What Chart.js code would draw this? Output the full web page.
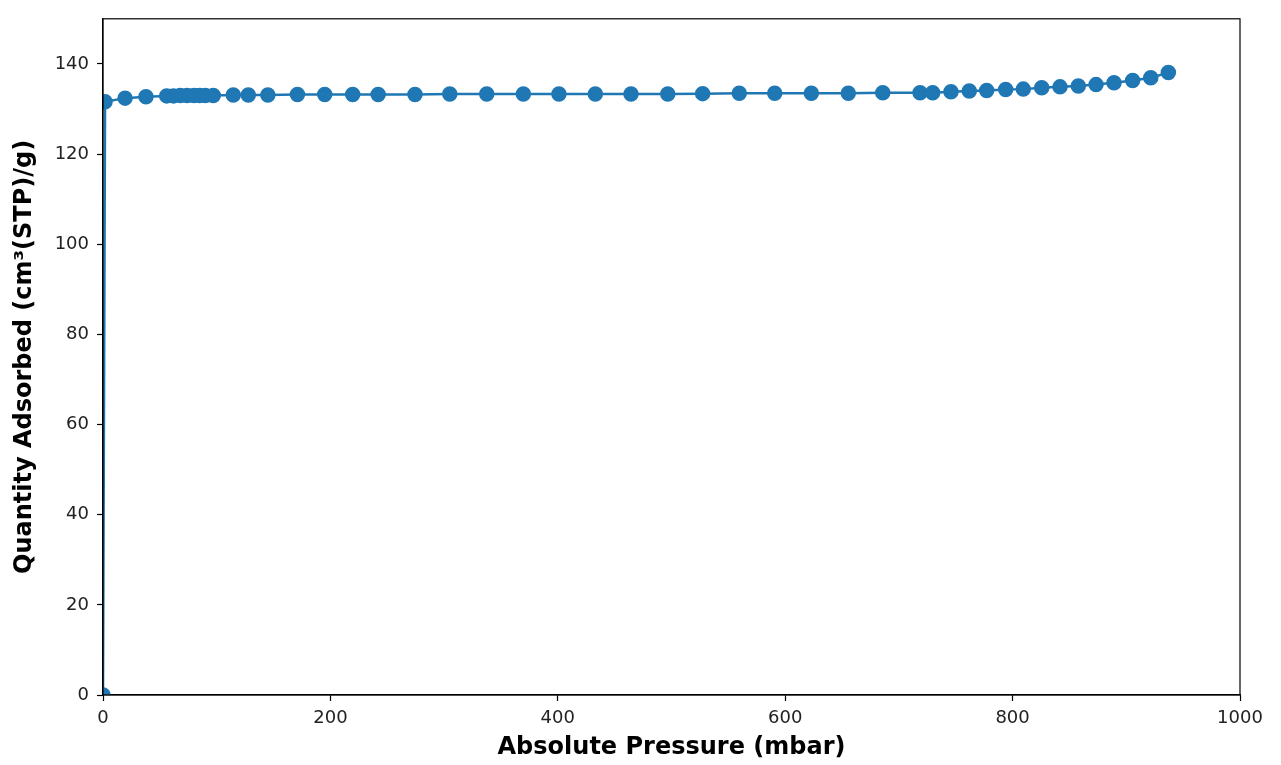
<!DOCTYPE html>
<html>
<head>
<meta charset="utf-8">
<script src="https://cdn.jsdelivr.net/npm/chart.js@4.4.0/dist/chart.umd.min.js"></script>
<style>
  html, body { margin: 0; padding: 0; background: #fff; }
  #wrap { width: 1281px; height: 765px; }
</style>
</head>
<body>
<div id="wrap"><canvas id="myChart" width="1281" height="765"></canvas></div>
<script>
// isotherm readings (pressure in mbar, quantity in cm3(STP)/g)
const pressure = [0, 1.8, 19.4, 37.8, 56, 62, 68, 74, 80, 85, 90, 97, 114.6, 127.8, 145, 171, 195, 219.6,
  242, 274.4, 305, 337.5, 369.7, 401, 433, 464.4, 496.7, 527.4, 559.6, 590.8, 623, 655.5, 685.8,
  718.6, 729.7, 745.8, 761.9, 777.2, 793.9, 809.4, 825.6, 841.7, 857.8, 873.4, 889.2, 905.6, 921.5, 937];
const quantity = [0, 131.6, 132.4, 132.7, 132.9, 132.9, 133.0, 133.0, 133.0, 133.0, 133.0, 133.0, 133.1, 133.1,
  133.1, 133.2, 133.2, 133.2, 133.2, 133.2, 133.3, 133.3, 133.3, 133.3, 133.3, 133.3, 133.3, 133.4, 133.5,
  133.5, 133.5, 133.5, 133.6, 133.6, 133.6, 133.8, 134.0, 134.1, 134.3, 134.4, 134.7, 134.9, 135.1,
  135.4, 135.8, 136.3, 136.9, 138.1];
const xTicks = [0, 200, 400, 600, 800, 1000];
const yTicks = [0, 20, 40, 60, 80, 100, 120, 140];

const points = pressure.map((p, i) => ({ x: p, y: quantity[i] }));

// matplotlib style box around the plot
const frame = {
  id: 'frame',
  afterDraw(chart) {
    const a = chart.chartArea;
    const c = chart.ctx;
    c.save();
    c.strokeStyle = '#000';
    c.lineWidth = 1.2;
    c.strokeRect(a.left, a.top, a.right - a.left, a.bottom - a.top);
    c.restore();
  }
};

const tickFont = { family: 'DejaVu Sans', size: 18 };
const titleFont = { family: 'DejaVu Sans', size: 24, weight: 'bold' };

new Chart(document.getElementById('myChart').getContext('2d'), {
  type: 'scatter',
  data: {
    datasets: [{
      data: points,
      showLine: true,
      borderColor: '#1f77b4',
      backgroundColor: '#1f77b4',
      borderWidth: 2.5,
      pointRadius: 6.5,
      pointHoverRadius: 6.5
    }]
  },
  options: {
    responsive: false,
    animation: false,
    layout: { padding: { left: 6, right: 41, top: 17, bottom: 0 } },
    plugins: { legend: { display: false }, tooltip: { enabled: false } },
    scales: {
      x: {
        type: 'linear',
        min: 0,
        max: 1000,
        afterBuildTicks: s => { s.ticks = xTicks.map(v => ({ value: v })); },
        afterFit: s => { s.height = 70; },
        grid: { drawOnChartArea: false, tickLength: 6, color: '#000', tickWidth: 1.2 },
        border: { color: '#000', width: 1.2 },
        ticks: { color: '#222', font: tickFont, padding: 7, maxRotation: 0, callback: v => String(v) },
        title: { display: true, text: 'Absolute Pressure (mbar)', color: '#000', font: titleFont, padding: { top: 2, bottom: 3 } }
      },
      y: {
        min: 0,
        max: 150,
        afterBuildTicks: s => { s.ticks = yTicks.map(v => ({ value: v })); },
        afterFit: s => { s.width = 97; },
        grid: { drawOnChartArea: false, tickLength: 6, color: '#000', tickWidth: 1.2 },
        border: { color: '#000', width: 1.2 },
        ticks: { color: '#222', font: tickFont, padding: 8, callback: v => String(v) },
        title: { display: true, text: 'Quantity Adsorbed (cm³(STP)/g)', color: '#000', font: titleFont, padding: { top: 4, bottom: 4 } }
      }
    }
  },
  plugins: [frame]
});
</script>
</body>
</html>
